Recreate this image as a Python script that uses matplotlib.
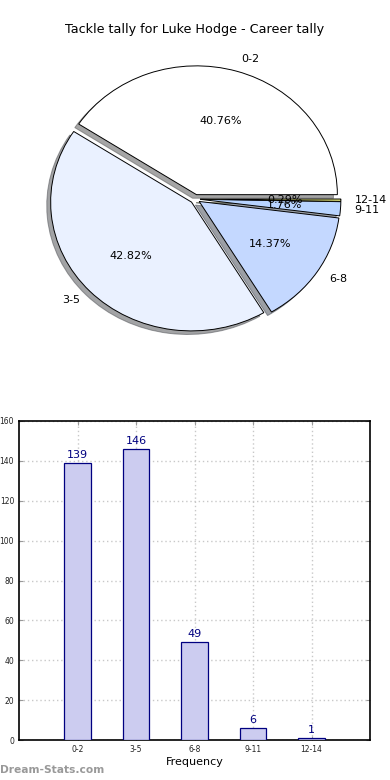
import matplotlib
matplotlib.use('Agg')
import matplotlib.pyplot as plt
import numpy as np

categories = ['0-2', '3-5', '6-8', '9-11', '12-14']
counts = [139, 146, 49, 6, 1]
pie_colors = ['#ffffff', '#eaf1ff', '#c4d8ff', '#b8d4ff', '#e6e87a']

fig = plt.figure(figsize=(3.9, 7.8), dpi=100)

# pie on top (not forced round, the original is slightly squashed)
ax1 = fig.add_axes([0.0487, 0.5385, 0.903, 0.4128])
wedges, texts, autotexts = ax1.pie(counts, labels=categories, colors=pie_colors,
                                   explode=[0.035] * len(counts), autopct='%.2f%%',
                                   startangle=0, shadow=True, labeldistance=1.1,
                                   wedgeprops=dict(edgecolor='black', linewidth=0.7),
                                   textprops=dict(fontsize=8))
ax1.set_aspect('auto')
ax1.set_xlim(-1.25, 1.25)
ax1.set_ylim(-1.25, 1.25)
fig.text(0.5, 1 - 30 / 780, 'Tackle tally for Luke Hodge - Career tally',
         ha='center', va='center', fontsize=9.2)

# bars below
ax2 = fig.add_axes([19 / 390, 1 - 740 / 780, 351 / 390, 319 / 780])
x = np.arange(len(categories))
bars = ax2.bar(x, counts, width=0.45, color='#ccccf0', edgecolor='#000080', linewidth=0.9, zorder=3)
for xi, v in zip(x, counts):
    ax2.text(xi, v + 1.5, str(v), ha='center', va='bottom', fontsize=8, color='#000080', zorder=4)
ax2.set_xlim(-1, 5)
ax2.set_ylim(0, 160)
ax2.set_xticks(x)
ax2.set_xticklabels(categories)
ax2.set_yticks(np.arange(0, 161, 20))
ax2.tick_params(labelsize=5.5, direction='in', top=True, right=True, length=3,
                color='#999999', labelcolor='#222222')
ax2.grid(True, linestyle=(0, (1, 2)), color='#c8c8c8', linewidth=1, zorder=0)
for s in ax2.spines.values():
    s.set_linewidth(1.2)
ax2.set_xlabel('Frequency', fontsize=8, labelpad=2)

fig.text(0.0, 1 - 770 / 780, 'Dream-Stats.com', ha='left', va='center',
         fontsize=7.7, fontweight='bold', color='#999999')

fig.savefig('out.png', dpi=100)
